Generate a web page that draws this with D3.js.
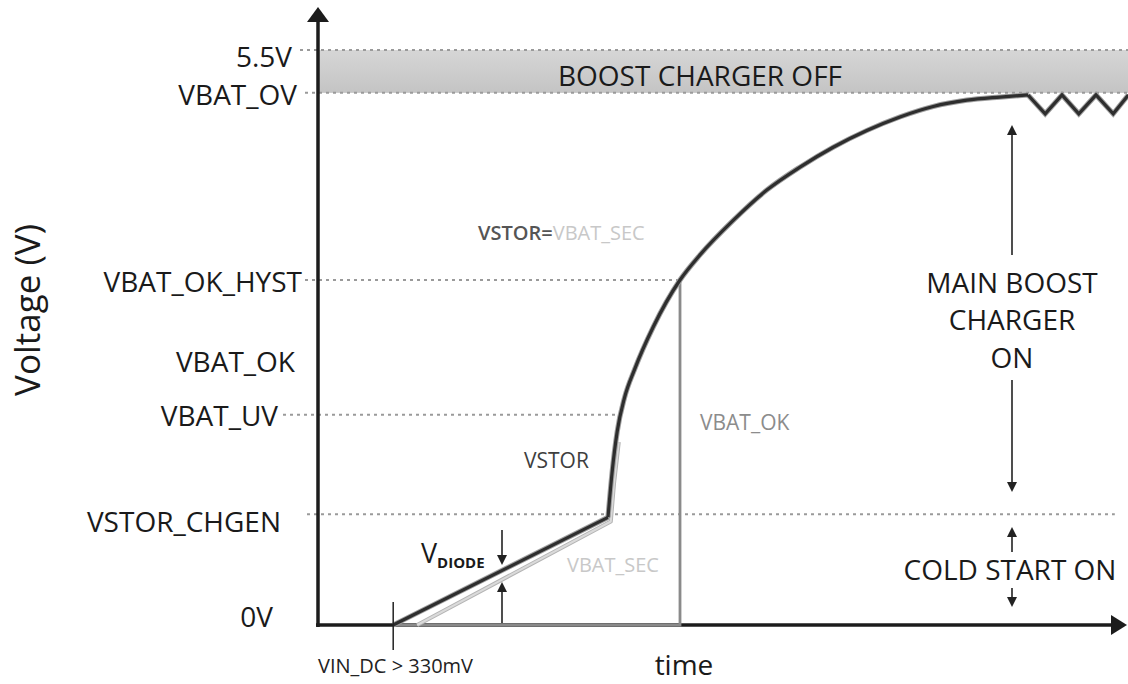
<!DOCTYPE html>
<html>
<head>
<meta charset="utf-8">
<script src="https://cdn.jsdelivr.net/npm/d3@7"></script>
<style>
  html, body { margin: 0; padding: 0; background: #fff; }
  svg { display: block; font-family: "Open Sans", "Noto Sans", sans-serif; }
</style>
</head>
<body>
<svg id="chart" width="1128" height="684"></svg>
<script>
// ---------------- data ----------------
const levelLabels = ["0V", "VSTOR_CHGEN", "VBAT_UV", "VBAT_OK", "VBAT_OK_HYST", "VBAT_OV", "5.5V"];
const levelVolts  = [0, 1.06, 2.01, 2.52, 3.30, 5.09, 5.5];

const vinDcTime = 9.4;

// VSTOR: linear ramp (cold start), then main boost charge curve, then ripple at VBAT_OV
const vstorRampT = [9.4, 36.25];
const vstorRampV = [0, 1.03];
const vstorChargeT = [36.25, 36.75, 37.4, 38.3, 39.6, 41.9, 45.25, 47.75, 51.9, 56.1, 60.25, 64.4, 68.6, 72.75, 76.9, 81.1, 85.25, 88.75];
const vstorChargeV = [1.03, 1.45, 1.85, 2.17, 2.45, 2.85, 3.30, 3.54, 3.87, 4.16, 4.38, 4.57, 4.73, 4.86, 4.96, 5.02, 5.05, 5.07];
const vstorRippleT = [88.75, 90.9, 93.0, 95.1, 97.25, 99.4, 101.3];
const vstorRippleV = [5.07, 4.89, 5.07, 4.89, 5.07, 4.89, 5.07];

// VBAT_SEC (one diode drop below VSTOR during cold start)
const vbatSecT = [12.4, 36.6, 37.0, 37.6];
const vbatSecV = [0, 0.99, 1.35, 1.75];

// VBAT_OK digital signal
const vbatOkT = [9.4, 45.25, 45.25];
const vbatOkV = [0, 0, 3.30];

// ---------------- layout ----------------
const W = 1128, H = 684;
const x = d3.scaleLinear().domain([0, 100]).range([318, 1118]);
const y = d3.scaleLinear().domain([0, 5.5]).range([625, 50]);

// label placement per level: right edge, baseline offset, dotted-line extent (px, null = none)
const labelLayout = {
  "0V":           { right: 273, dy: 2,  line: null },
  "VSTOR_CHGEN":  { right: 281, dy: 18, line: [307, x(99.6)] },
  "VBAT_UV":      { right: 278, dy: 11, line: [283, x(37.5)] },
  "VBAT_OK":      { right: 295, dy: 10, line: null },
  "VBAT_OK_HYST": { right: 302, dy: 12, line: [305, x(45.25)] },
  "VBAT_OV":      { right: 297, dy: 12, line: [305, W] },
  "5.5V":         { right: 292, dy: 17, line: [300, W] }
};

const svg = d3.select("#chart");
const defs = svg.append("defs");
const grad = defs.append("linearGradient").attr("id", "band").attr("x1", 0).attr("x2", 0).attr("y1", 0).attr("y2", 1);
grad.append("stop").attr("offset", "0%").attr("stop-color", "#d6d6d6");
grad.append("stop").attr("offset", "100%").attr("stop-color", "#c4c4c4");

const iOV = levelLabels.indexOf("VBAT_OV"), i55 = levelLabels.indexOf("5.5V");

// Boost charger off band
svg.append("rect")
  .attr("x", x(0)).attr("y", y(levelVolts[i55]))
  .attr("width", W - x(0)).attr("height", y(levelVolts[iOV]) - y(levelVolts[i55]))
  .attr("fill", "url(#band)");

svg.append("text")
  .attr("x", 700).attr("y", 86)
  .attr("text-anchor", "middle")
  .attr("font-size", 28).attr("fill", "#1a1a1a")
  .text("BOOST CHARGER OFF");

// dotted level lines + labels
levelLabels.forEach((name, i) => {
  const L = labelLayout[name];
  if (L.line) {
    svg.append("line")
      .attr("x1", L.line[0]).attr("x2", L.line[1])
      .attr("y1", y(levelVolts[i])).attr("y2", y(levelVolts[i]))
      .attr("stroke", "#9a9a9a").attr("stroke-width", 2)
      .attr("stroke-dasharray", "3,4");
  }
  svg.append("text")
    .attr("x", L.right).attr("y", y(levelVolts[i]) + L.dy)
    .attr("text-anchor", "end")
    .attr("font-size", 28).attr("fill", "#1a1a1a")
    .text(name);
});

// Y-axis title
svg.append("text")
  .attr("transform", "translate(40,310) rotate(-90)")
  .attr("text-anchor", "middle")
  .attr("font-size", 35).attr("fill", "#1a1a1a")
  .text("Voltage (V)");

// axes
const axisColor = "#1c1c1c";
svg.append("line").attr("x1", x(0)).attr("x2", x(0)).attr("y1", y(0) + 2).attr("y2", 18)
  .attr("stroke", axisColor).attr("stroke-width", 3.5);
svg.append("path").attr("d", `M${x(0)},7 L${x(0) - 11},22 L${x(0) + 11},22 Z`).attr("fill", axisColor);
svg.append("line").attr("x1", x(0) - 2).attr("x2", 1114).attr("y1", y(0)).attr("y2", y(0))
  .attr("stroke", axisColor).attr("stroke-width", 3.5);
svg.append("path").attr("d", `M1127,${y(0)} L1111,${y(0) - 10} L1111,${y(0) + 10} Z`).attr("fill", axisColor);

// line generator helpers
const pts = (T, V) => T.map((t, i) => [x(t), y(V[i])]);
const lin = d3.line();
const smooth = d3.line().curve(d3.curveMonotoneX);

// VBAT_OK signal (gray)
svg.append("path").attr("d", lin(pts(vbatOkT, vbatOkV)))
  .attr("fill", "none").attr("stroke", "#8a8a8a").attr("stroke-width", 2.8);

// VBAT_SEC (light gray)
svg.append("path").attr("d", lin(pts(vbatSecT, vbatSecV)))
  .attr("fill", "none").attr("stroke", "#b4b4b4").attr("stroke-width", 4).attr("stroke-linejoin", "round");
svg.append("path").attr("d", lin(pts(vbatSecT, vbatSecV)))
  .attr("fill", "none").attr("stroke", "#dadada").attr("stroke-width", 2).attr("stroke-linejoin", "round");

// VSTOR
const vstorG = svg.append("g").attr("fill", "none").attr("stroke-linejoin", "miter");
[["#a0a0a0", 5.2], ["#2e2e2e", 3.2]].forEach(([c, w]) => {
  vstorG.append("path").attr("d", lin(pts(vstorRampT, vstorRampV))).attr("stroke", c).attr("stroke-width", w);
  vstorG.append("path").attr("d", smooth(pts(vstorChargeT, vstorChargeV))).attr("stroke", c).attr("stroke-width", w);
  vstorG.append("path").attr("d", lin(pts(vstorRippleT, vstorRippleV))).attr("stroke", c).attr("stroke-width", w);
});

// VIN_DC marker
svg.append("line").attr("x1", x(vinDcTime)).attr("x2", x(vinDcTime)).attr("y1", 602).attr("y2", 650)
  .attr("stroke", "#222").attr("stroke-width", 1.5);
svg.append("text").attr("x", 318).attr("y", 673)
  .attr("font-size", 20).attr("fill", "#222").text("VIN_DC > 330mV");
svg.append("text").attr("x", 684).attr("y", 675).attr("text-anchor", "middle")
  .attr("font-size", 28).attr("fill", "#1a1a1a").text("time");

// arrows helper
function arrow(xp, yFrom, yTip, w) {
  const dir = yTip < yFrom ? -1 : 1;
  const head = 9;
  svg.append("line").attr("x1", xp).attr("x2", xp).attr("y1", yFrom).attr("y2", yTip - dir * head)
    .attr("stroke", "#222").attr("stroke-width", w);
  svg.append("path").attr("d", `M${xp},${yTip} L${xp - 5},${yTip - dir * (head + 1)} L${xp + 5},${yTip - dir * (head + 1)} Z`)
    .attr("fill", "#222");
}

// VDIODE
arrow(502, 530, 565, 1.6);
arrow(502, 623, 582, 1.6);
const vd = svg.append("text").attr("x", 421).attr("y", 563).attr("fill", "#1a1a1a");
vd.append("tspan").attr("font-size", 27).text("V");
vd.append("tspan").attr("font-size", 15).attr("font-weight", 700).attr("dy", 5).text("DIODE");

// curve labels
svg.append("text").attr("x", 567).attr("y", 572).attr("font-size", 20).attr("fill", "#c8c8c8").text("VBAT_SEC");
svg.append("text").attr("x", 524).attr("y", 468).attr("font-size", 21).attr("fill", "#3e3e3e").text("VSTOR");
svg.append("text").attr("x", 700).attr("y", 430).attr("font-size", 21).attr("fill", "#8c8c8c").text("VBAT_OK");
const eq = svg.append("text").attr("x", 478).attr("y", 240).attr("font-size", 20);
eq.append("tspan").attr("fill", "#555").attr("font-weight", 600).text("VSTOR=");
eq.append("tspan").attr("fill", "#c8c8c8").text("VBAT_SEC");

// right-side annotations
arrow(1012, 255, 125, 1.6);
arrow(1012, 380, 492, 1.6);
const mb = svg.append("text").attr("text-anchor", "middle").attr("font-size", 28).attr("fill", "#1a1a1a");
[["MAIN BOOST", 293], ["CHARGER", 330], ["ON", 368]].forEach(([t, yy]) =>
  mb.append("tspan").attr("x", 1012).attr("y", yy).text(t));
arrow(1012, 552, 527, 1.6);
arrow(1012, 588, 607, 1.6);
svg.append("text").attr("x", 1010).attr("y", 580).attr("text-anchor", "middle")
  .attr("font-size", 28).attr("fill", "#1a1a1a").text("COLD START ON");
</script>
</body>
</html>
